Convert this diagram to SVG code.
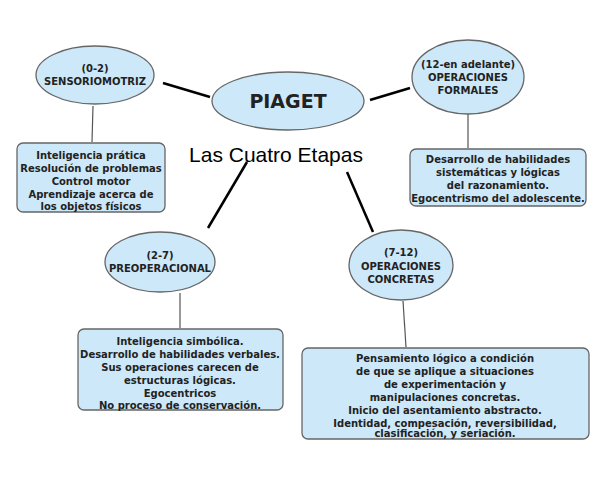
<svg xmlns="http://www.w3.org/2000/svg" width="600" height="480" viewBox="0 0 600 480">
<style>
.n{fill:#cde8f8;stroke:#666;stroke-width:1.3}
.t{font-family:Verdana,"DejaVu Sans",sans-serif;font-weight:bold;font-size:10px;fill:#222;text-anchor:middle}
.c{stroke:#000;stroke-width:2.5;fill:none}
.s{stroke:#555;stroke-width:1.2;fill:none}
</style>
<rect width="600" height="480" fill="#fff"/>
<g id="connectors">
<line class="c" x1="163" y1="83" x2="210" y2="97"/>
<line class="c" x1="370" y1="100" x2="410" y2="88"/>
<line class="c" x1="247" y1="162" x2="208" y2="228"/>
<line class="c" x1="347" y1="172" x2="373" y2="232"/>
<line class="s" x1="93" y1="106" x2="92" y2="142"/>
<line class="s" x1="468" y1="114" x2="468" y2="148"/>
<line class="s" x1="180" y1="293" x2="180" y2="328"/>
<line class="s" x1="403" y1="301" x2="406" y2="347"/>
</g>
<g id="piaget"><ellipse class="n" cx="288" cy="101" rx="76" ry="29"/><text class="t" x="288" y="108" style="font-size:19px">PIAGET</text></g>
<g id="titulo"><text x="276" y="162" style="font-family:'Liberation Sans',Arial,sans-serif;font-size:21px;text-anchor:middle">Las Cuatro Etapas</text></g>
<g id="sensoriomotriz"><ellipse class="n" cx="95" cy="75" rx="59" ry="29"/><text class="t" x="95" y="72">(0-2)</text><text class="t" x="95" y="85">SENSORIOMOTRIZ</text></g>
<g id="formales"><ellipse class="n" cx="468" cy="77" rx="56" ry="37"/><text class="t" x="468" y="68">(12-en adelante)</text><text class="t" x="468" y="81">OPERACIONES</text><text class="t" x="468" y="94">FORMALES</text></g>
<g id="preoperacional"><ellipse class="n" cx="160" cy="262" rx="55" ry="30"/><text class="t" x="160" y="259">(2-7)</text><text class="t" x="160" y="272">PREOPERACIONAL</text></g>
<g id="concretas"><ellipse class="n" cx="401" cy="265" rx="52" ry="35"/><text class="t" x="401" y="256">(7-12)</text><text class="t" x="401" y="270">OPERACIONES</text><text class="t" x="401" y="283">CONCRETAS</text></g>
<g id="box-sensorio"><rect class="n" x="17" y="143" width="148" height="69" rx="6"/>
<text class="t" x="91" y="159">Inteligencia prática</text><text class="t" x="91" y="172">Resolución de problemas</text><text class="t" x="91" y="185">Control motor</text><text class="t" x="91" y="198">Aprendizaje acerca de</text><text class="t" x="91" y="210">los objetos físicos</text></g>
<g id="box-formales"><rect class="n" x="410" y="149" width="176" height="57" rx="6"/>
<text class="t" x="498" y="163">Desarrollo de habilidades</text><text class="t" x="498" y="176">sistemáticas y lógicas</text><text class="t" x="498" y="189">del razonamiento.</text><text class="t" x="498" y="202">Egocentrismo del adolescente.</text></g>
<g id="box-preop"><rect class="n" x="78" y="329" width="205" height="81" rx="6"/>
<text class="t" x="180" y="345">Inteligencia simbólica.</text><text class="t" x="180" y="358">Desarrollo de habilidades verbales.</text><text class="t" x="180" y="371">Sus operaciones carecen de</text><text class="t" x="180" y="384">estructuras lógicas.</text><text class="t" x="180" y="397">Egocentricos</text><text class="t" x="180" y="410" dy="-1">No proceso de conservación.</text></g>
<g id="box-concretas"><rect class="n" x="302" y="348" width="287" height="91" rx="6"/>
<text class="t" x="445" y="362">Pensamiento lógico a condición</text><text class="t" x="445" y="375">de que se aplique a situaciones</text><text class="t" x="445" y="388">de experimentación y</text><text class="t" x="445" y="401">manipulaciones concretas.</text><text class="t" x="445" y="414">Inicio del asentamiento abstracto.</text><text class="t" x="445" y="427">Identidad, compesación, reversibilidad,</text><text class="t" x="445" y="440" dy="-3">clasificación, y seriación.</text></g>
</svg>
